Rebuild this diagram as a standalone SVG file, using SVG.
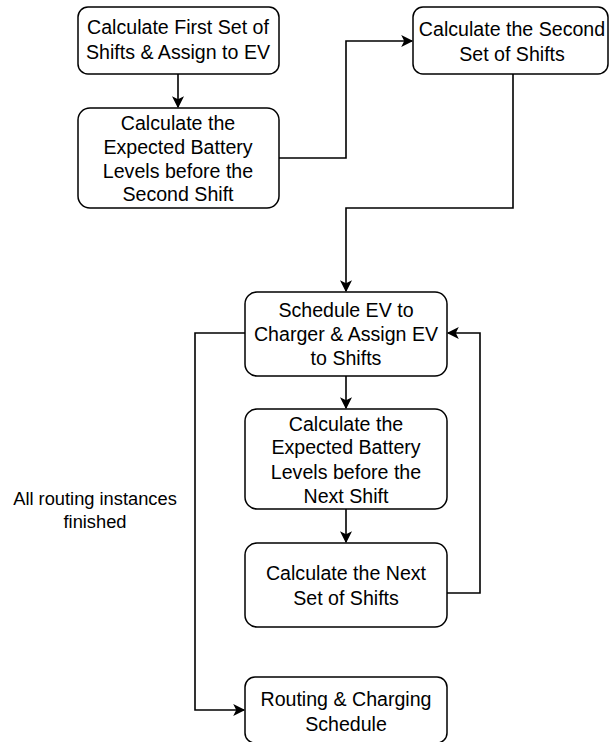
<svg xmlns="http://www.w3.org/2000/svg" width="609" height="742" viewBox="0 0 609 742">
<style>
.n rect{fill:#fff;stroke:#000;stroke-width:1.5}
text{font-family:"Liberation Sans",Arial,sans-serif;font-size:19.6px;fill:#000;text-anchor:middle;dominant-baseline:central}
#lbl text{font-size:18.3px}
.c path{fill:none;stroke:#000;stroke-width:1.6}
</style>
<defs>
<marker id="a" viewBox="0 0 10 10" refX="9" refY="5" markerWidth="13" markerHeight="12" markerUnits="userSpaceOnUse" orient="auto">
<path d="M0,0 L10,5 L0,10 L2.5,5 Z" fill="#000"/>
</marker>
</defs>
<rect width="609" height="742" fill="#fff"/>
<g class="c">
<path d="M178,74 V107" marker-end="url(#a)"/>
<path d="M279,158 H346 V41 H412" marker-end="url(#a)"/>
<path d="M513,74 V208 H346 V291" marker-end="url(#a)"/>
<path d="M346,376 V408" marker-end="url(#a)"/>
<path d="M346,509 V542" marker-end="url(#a)"/>
<path d="M447,593 H480 V333 H448" marker-end="url(#a)"/>
<path d="M245,333 H195 V710 H244" marker-end="url(#a)"/>
</g>
<g id="n1" class="n"><rect x="78" y="7" width="201" height="67" rx="10"/><text x="178" y="27">Calculate First Set of</text><text x="178" y="52">Shifts &amp; Assign to EV</text></g>
<g id="n2" class="n"><rect x="78" y="108" width="201" height="100" rx="12"/><text x="178" y="123">Calculate the</text><text x="178" y="147">Expected Battery</text><text x="178" y="171">Levels before the</text><text x="178" y="194">Second Shift</text></g>
<g id="n3" class="n"><rect x="413" y="7" width="195" height="67" rx="10"/><text x="512" y="29">Calculate the Second</text><text x="512" y="54">Set of Shifts</text></g>
<g id="n4" class="n"><rect x="245" y="292" width="202" height="84" rx="12"/><text x="346" y="310">Schedule EV to</text><text x="346" y="334">Charger &amp; Assign EV</text><text x="346" y="358">to Shifts</text></g>
<g id="n5" class="n"><rect x="245" y="409" width="202" height="100" rx="12"/><text x="346" y="424">Calculate the</text><text x="346" y="447">Expected Battery</text><text x="346" y="472">Levels before the</text><text x="346" y="496">Next Shift</text></g>
<g id="n6" class="n"><rect x="245" y="543" width="202" height="84" rx="12"/><text x="346" y="573">Calculate the Next</text><text x="346" y="598">Set of Shifts</text></g>
<g id="n7" class="n"><rect x="245" y="677" width="202" height="66" rx="10"/><text x="346" y="699">Routing &amp; Charging</text><text x="346" y="724">Schedule</text></g>
<g id="lbl"><text x="95" y="498">All routing instances</text><text x="95" y="521">finished</text></g>
</svg>
